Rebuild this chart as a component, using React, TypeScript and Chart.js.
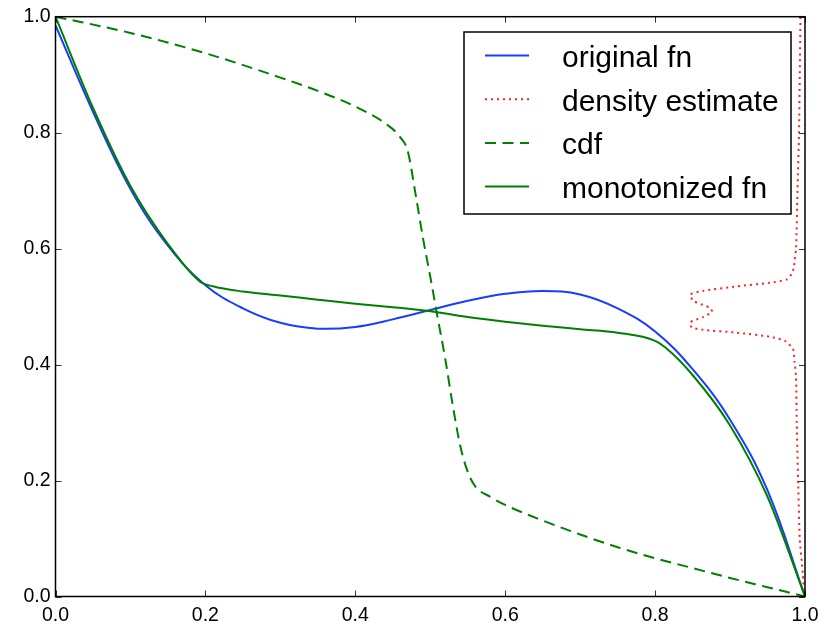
import React, { useEffect, useRef } from "react";
import { Chart, registerables } from "chart.js";

Chart.register(...registerables);

const origX = [0, 0.05, 0.1, 0.15, 0.2, 0.25, 0.3, 0.35, 0.4, 0.45, 0.5, 0.55, 0.6, 0.65, 0.7, 0.75, 0.8, 0.85, 0.9, 0.95, 1.0];
const origY = [0.985, 0.836, 0.703, 0.605, 0.537, 0.497, 0.472, 0.462, 0.465, 0.478, 0.494, 0.51, 0.522, 0.527, 0.521, 0.497, 0.457, 0.392, 0.305, 0.183, 0.0];

const densX = [0.999, 0.997, 0.993, 0.991, 0.989, 0.988, 0.986, 0.984, 0.973, 0.953, 0.909, 0.864, 0.849, 0.847, 0.864, 0.876, 0.873, 0.851, 0.847, 0.864, 0.909, 0.953, 0.976, 0.982, 0.985, 0.988, 0.99, 0.992, 0.993, 0.994];
const densY = [0.0, 0.04, 0.1, 0.19, 0.3, 0.38, 0.405, 0.427, 0.441, 0.448, 0.455, 0.46, 0.464, 0.473, 0.482, 0.491, 0.498, 0.51, 0.521, 0.527, 0.535, 0.541, 0.547, 0.556, 0.567, 0.6, 0.7, 0.8, 0.9, 1.0];

const cdfX = [0, 0.1, 0.2, 0.3, 0.35, 0.4, 0.44, 0.46, 0.47, 0.48, 0.49, 0.5, 0.51, 0.52, 0.53, 0.54, 0.55, 0.56, 0.58, 0.6, 0.65, 0.7, 0.75, 0.8, 0.85, 0.9, 0.95, 1.0];
const cdfY = [1.0, 0.972, 0.937, 0.895, 0.872, 0.845, 0.816, 0.792, 0.768, 0.697, 0.62, 0.552, 0.48, 0.41, 0.33, 0.26, 0.215, 0.19, 0.172, 0.158, 0.131, 0.107, 0.085, 0.066, 0.049, 0.032, 0.016, 0.0];

const monoX = [0, 0.05, 0.1, 0.15, 0.193, 0.21, 0.25, 0.3, 0.35, 0.4, 0.45, 0.5, 0.55, 0.6, 0.65, 0.7, 0.75, 0.8, 0.815, 0.85, 0.9, 0.95, 1.0];
const monoY = [1.0, 0.843, 0.708, 0.608, 0.543, 0.535, 0.526, 0.519, 0.512, 0.505, 0.499, 0.492, 0.482, 0.474, 0.467, 0.461, 0.455, 0.441, 0.428, 0.382, 0.295, 0.172, 0.0];

const tickValues = [0, 0.2, 0.4, 0.6, 0.8, 1.0];
const labels = ["original fn", "density estimate", "cdf", "monotonized fn"];

const FONT = '"Liberation Sans", Arial, Helvetica, sans-serif';

const zip = (xs: number[], ys: number[]) => xs.map((x, i) => ({ x, y: ys[i] }));

const framePlugin = {
  id: "frameLegend",
  afterDatasetsDraw(chart: any) {
    const { ctx, chartArea } = chart;
    const { left, top, right, bottom } = chartArea;
    const xs = chart.scales.x;
    const ys = chart.scales.y;
    ctx.save();
    ctx.strokeStyle = "#333";
    ctx.lineWidth = 1;
    ctx.beginPath();
    tickValues.forEach((v) => {
      const px = Math.round(xs.getPixelForValue(v)) + 0.5;
      ctx.moveTo(px, bottom);
      ctx.lineTo(px, bottom - 6);
      ctx.moveTo(px, top);
      ctx.lineTo(px, top + 6);
      const py = Math.round(ys.getPixelForValue(v)) + 0.5;
      ctx.moveTo(left, py);
      ctx.lineTo(left + 6, py);
      ctx.moveTo(right, py);
      ctx.lineTo(right - 6, py);
    });
    ctx.stroke();
    ctx.strokeStyle = "#000";
    ctx.lineWidth = 1.5;
    ctx.strokeRect(left, top, right - left, bottom - top);

    const bx = 464, by = 32, bw = 327, bh = 182;
    ctx.fillStyle = "#fff";
    ctx.fillRect(bx, by, bw, bh);
    ctx.strokeStyle = "#000";
    ctx.lineWidth = 1.5;
    ctx.strokeRect(bx, by, bw, bh);
    const rowY = [55.5, 99.2, 142.9, 186.6];
    chart.data.datasets.forEach((ds: any, i: number) => {
      const y = rowY[i];
      ctx.save();
      ctx.strokeStyle = ds.borderColor;
      ctx.lineWidth = ds.borderWidth;
      ctx.setLineDash(ds.borderDash || []);
      ctx.beginPath();
      ctx.moveTo(485, y);
      ctx.lineTo(529, y);
      ctx.stroke();
      ctx.restore();
      ctx.fillStyle = "#000";
      ctx.font = `30px ${FONT}`;
      ctx.textBaseline = "alphabetic";
      ctx.textAlign = "left";
      ctx.fillText(ds.label, 562, y + 11.3);
    });
    ctx.restore();
  },
};

export default function App() {
  const ref = useRef<HTMLCanvasElement | null>(null);
  useEffect(() => {
    document.body.style.margin = "0";
    const canvas = ref.current;
    if (!canvas) return;
    const chart = new Chart(canvas, {
      type: "scatter",
      data: {
        datasets: [
          {
            label: labels[0],
            data: zip(origX, origY),
            showLine: true,
            borderColor: "#1a3cff",
            borderWidth: 2,
            pointRadius: 0,
            tension: 0.4,
            order: 4,
          },
          {
            label: labels[1],
            data: zip(densX, densY),
            showLine: true,
            borderColor: "#ff2020",
            borderWidth: 2,
            borderDash: [2, 4],
            borderCapStyle: "butt",
            pointRadius: 0,
            tension: 0.2,
            order: 3,
          },
          {
            label: labels[2],
            data: zip(cdfX, cdfY),
            showLine: true,
            borderColor: "#008000",
            borderWidth: 2,
            borderDash: [11, 6.5],
            pointRadius: 0,
            cubicInterpolationMode: "monotone",
            order: 2,
          },
          {
            label: labels[3],
            data: zip(monoX, monoY),
            showLine: true,
            borderColor: "#008000",
            borderWidth: 2,
            pointRadius: 0,
            cubicInterpolationMode: "monotone",
            order: 1,
          },
        ],
      } as any,
      options: {
        animation: false,
        responsive: false,
        devicePixelRatio: 1,
        layout: { padding: { left: 0, top: 15.7, right: 26, bottom: 0 } },
        plugins: { legend: { display: false }, tooltip: { enabled: false } },
        scales: {
          x: {
            type: "linear",
            min: 0,
            max: 1,
            afterFit: (s: any) => {
              s.height = 25.5;
            },
            afterBuildTicks: (s: any) => {
              s.ticks = tickValues.map((v) => ({ value: v }));
            },
            grid: { display: false, drawTicks: false },
            border: { display: false },
            ticks: {
              padding: 7,
              color: "#000",
              font: { family: FONT, size: 19.5 },
              callback: (v: any) => Number(v).toFixed(1),
            },
          },
          y: {
            type: "linear",
            min: 0,
            max: 1,
            afterFit: (s: any) => {
              s.width = 55.5;
            },
            afterBuildTicks: (s: any) => {
              s.ticks = tickValues.map((v) => ({ value: v }));
            },
            grid: { display: false, drawTicks: false },
            border: { display: false },
            ticks: {
              padding: 5,
              color: "#000",
              font: { family: FONT, size: 19.5 },
              callback: (v: any) => Number(v).toFixed(1),
            },
          },
        },
      } as any,
      plugins: [framePlugin],
    });
    return () => chart.destroy();
  }, []);
  return (
    <div style={{ width: 831, height: 622, background: "#fff" }}>
      <canvas ref={ref} width={831} height={622} style={{ display: "block" }} />
    </div>
  );
}
